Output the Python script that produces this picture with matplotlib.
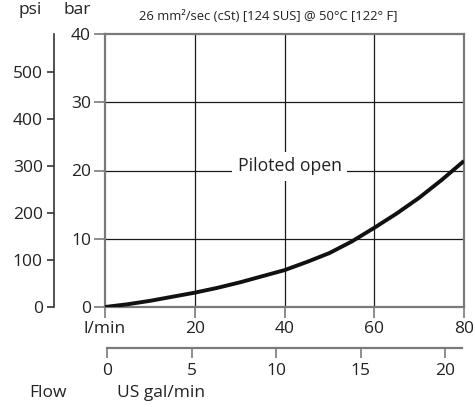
import matplotlib
matplotlib.use("Agg")
import matplotlib.pyplot as plt
import numpy as np

plt.rcParams['font.family'] = ['Open Sans', 'DejaVu Sans']

# Data
flow_lpm = [0, 5, 10, 15, 20, 25, 30, 35, 40, 45, 50, 55, 60, 65, 70, 75, 80]
pressure_bar = [0, 0.4, 0.9, 1.5, 2.1, 2.8, 3.6, 4.5, 5.4, 6.6, 7.9, 9.6, 11.6, 13.7, 16.0, 18.6, 21.4]
bar_ticks = [0, 10, 20, 30, 40]
psi_ticks = [0, 100, 200, 300, 400, 500]
lpm_ticks = [0, 20, 40, 60, 80]
lpm_labels = ['l/min', '20', '40', '60', '80']
gpm_ticks = [0, 5, 10, 15, 20]
title = "26 mm²/sec (cSt) [124 SUS] @ 50°C [122° F]"
curve_label = "Piloted open"

W, H = 475, 407
fig = plt.figure(figsize=(W / 100, H / 100), dpi=100)

def fx(px):
    return px / W

def fy(py):
    return 1 - py / H

x0, x1 = 105, 464
y0, y1 = 307, 34
border = '#7a7a7a'
grid = '#1a1a1a'
fs = 12.5
tc = '#222222'

ax = fig.add_axes([fx(x0), fy(y0), fx(x1) - fx(x0), fy(y1) - fy(y0)])
ax.set_xlim(0, 80)
ax.set_ylim(0, 40)
for s in ax.spines.values():
    s.set_color(border)
    s.set_linewidth(1.6)
ax.set_xticks(lpm_ticks)
ax.set_xticklabels(lpm_labels)
ax.set_yticks(bar_ticks)
ax.tick_params(axis='both', direction='out', length=8, width=1.2, color=border,
               labelsize=fs, labelcolor=tc, pad=2)
ax.tick_params(axis='x', pad=2)
for v in [20, 40, 60]:
    ax.axvline(v, color=grid, lw=0.9, zorder=1)
for v in [10, 20, 30]:
    ax.axhline(v, color=grid, lw=0.9, zorder=1)
ax.plot(flow_lpm, pressure_bar, color='#111111', lw=2.8, zorder=3, solid_capstyle='butt')
ax.text(41.2, 20.6, curve_label, ha='center', va='center', fontsize=12.7, color=tc,
        zorder=4, bbox=dict(facecolor='white', edgecolor='none', pad=4))

# psi axis
psi_max = 40 * 14.5038
axp = fig.add_axes([fx(54), fy(y0), 0.0001, fy(y1) - fy(y0)])
axp.set_ylim(0, psi_max)
axp.set_xticks([])
for k in ['top', 'right', 'bottom']:
    axp.spines[k].set_visible(False)
axp.spines['left'].set_color('#333333')
axp.spines['left'].set_linewidth(1.2)
axp.set_yticks(psi_ticks)
axp.tick_params(axis='y', direction='out', length=5, width=1.2, color='#333333',
                labelsize=fs, labelcolor=tc, pad=3)
axp.patch.set_visible(False)

# gpm axis
gx0 = 107
px_per_gpm = 16.9
gmax = 21
axg = fig.add_axes([fx(gx0), fy(348), fx(gx0 + gmax * px_per_gpm) - fx(gx0), 0.0001])
axg.set_xlim(0, gmax)
axg.set_yticks([])
for k in ['top', 'right', 'left']:
    axg.spines[k].set_visible(False)
axg.spines['bottom'].set_color(border)
axg.spines['bottom'].set_linewidth(1.6)
axg.set_xticks(gpm_ticks)
axg.tick_params(axis='x', direction='out', length=7, width=1.2, color=border,
                labelsize=fs, labelcolor=tc, pad=4)
axg.patch.set_visible(False)

# labels
fig.text(fx(30), fy(10), 'psi', ha='center', va='center', fontsize=fs, color=tc)
fig.text(fx(77), fy(10), 'bar', ha='center', va='center', fontsize=fs, color=tc)
fig.text(fx(268), fy(17), title, ha='center', va='center', fontsize=9.4, color=tc)
fig.text(fx(48), fy(393), 'Flow', ha='center', va='center', fontsize=fs, color=tc)
fig.text(fx(161), fy(393), 'US gal/min', ha='center', va='center', fontsize=fs, color=tc)

fig.savefig('out.png', dpi=100)
